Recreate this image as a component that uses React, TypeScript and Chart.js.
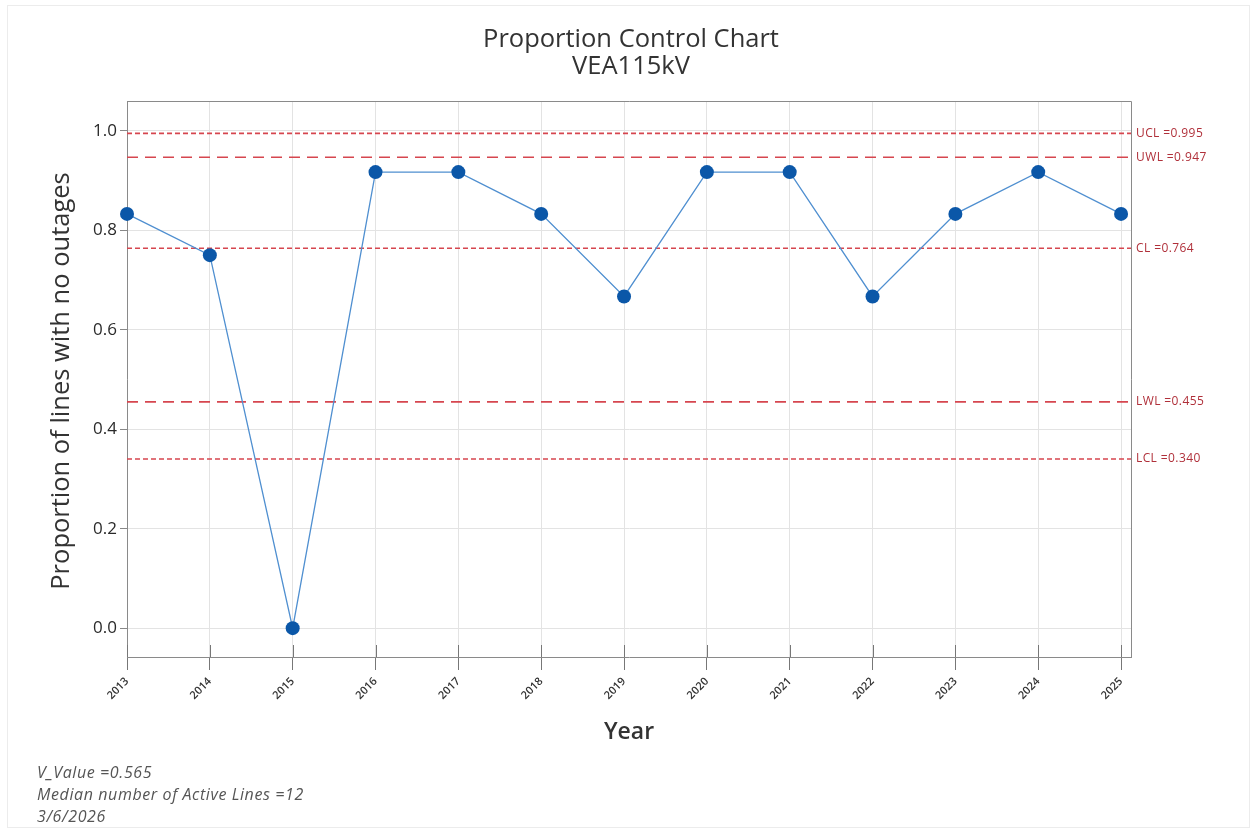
import React, { useEffect, useRef } from "react";
import { Chart, registerables } from "chart.js";

Chart.register(...registerables);

const years = [2013, 2014, 2015, 2016, 2017, 2018, 2019, 2020, 2021, 2022, 2023, 2024, 2025];
const proportions = [0.833, 0.75, 0.0, 0.917, 0.917, 0.833, 0.667, 0.917, 0.917, 0.667, 0.833, 0.917, 0.833];
const yTicks = [0.0, 0.2, 0.4, 0.6, 0.8, 1.0];
const limitNames = ["UCL", "UWL", "CL", "LWL", "LCL"];
const limitValues = [0.995, 0.947, 0.764, 0.455, 0.34];
const limitLabels = ["UCL =0.995", "UWL =0.947", "CL =0.764", "LWL =0.455", "LCL =0.340"];
const limitDashes = [[5, 3], [11, 7], [5, 3], [11, 7], [5, 3]];
const titleLines = ["Proportion Control Chart", "VEA115kV"];
const footnotes = ["V_Value =0.565", "Median number of Active Lines =12", "3/6/2026"];

const X_MIN = 2013;
const X_MAX = 2025.12;
const Y_MIN = -0.058;
const Y_MAX = 1.06;

const FONT = "'Open Sans', 'Noto Sans', sans-serif";

const overlay = {
  id: "overlay",
  afterDraw(chart: any) {
    const { ctx, chartArea } = chart;
    const xs = chart.scales.x;
    const ys = chart.scales.y;
    ctx.save();
    // top and right borders
    ctx.strokeStyle = "#8a8a8a";
    ctx.lineWidth = 1;
    ctx.beginPath();
    ctx.moveTo(chartArea.left, chartArea.top + 0.5);
    ctx.lineTo(chartArea.right + 0.5, chartArea.top + 0.5);
    ctx.lineTo(chartArea.right + 0.5, chartArea.bottom);
    ctx.stroke();
    // inner part of x ticks
    ctx.strokeStyle = "#777";
    years.forEach((y) => {
      const px = Math.round(xs.getPixelForValue(y)) + 0.5;
      ctx.beginPath();
      ctx.moveTo(px, chartArea.bottom - 12);
      ctx.lineTo(px, chartArea.bottom);
      ctx.stroke();
    });
    // limit labels
    ctx.fillStyle = "#b0303a";
    ctx.font = `12px ${FONT}`;
    (ctx as any).letterSpacing = "0.4px";
    ctx.textAlign = "left";
    ctx.textBaseline = "middle";
    limitLabels.forEach((lab, i) => {
      ctx.fillText(lab, chartArea.right + 5, ys.getPixelForValue(limitValues[i]));
    });
    (ctx as any).letterSpacing = "0px";
    // titles
    ctx.fillStyle = "#333";
    ctx.textAlign = "center";
    ctx.textBaseline = "middle";
    ctx.font = `25.5px ${FONT}`;
    ctx.fillText(titleLines[0], 631, 40);
    ctx.fillText(titleLines[1], 631, 67);
    // x title
    ctx.font = `600 23px ${FONT}`;
    ctx.fillText("Year", 629, 732);
    // y title
    ctx.save();
    ctx.translate(62, 381);
    ctx.rotate(-Math.PI / 2);
    ctx.font = `25.5px ${FONT}`;
    ctx.fillText("Proportion of lines with no outages", 0, 0);
    ctx.restore();
    // footnotes
    ctx.fillStyle = "#555";
    ctx.textAlign = "left";
    ctx.font = `italic 16px ${FONT}`;
    (ctx as any).letterSpacing = "0.6px";
    footnotes.forEach((t, i) => ctx.fillText(t, 37, 773 + i * 22));
    (ctx as any).letterSpacing = "0px";
    ctx.restore();
  },
};

export default function App() {
  const ref = useRef<HTMLCanvasElement>(null);
  useEffect(() => {
    const limitSets = limitNames.map((name, i) => ({
      label: name,
      data: [
        { x: X_MIN, y: limitValues[i] },
        { x: X_MAX, y: limitValues[i] },
      ],
      borderColor: "#d6464f",
      borderWidth: 1.6,
      borderDash: limitDashes[i],
      pointRadius: 0,
      fill: false,
      order: 2,
    }));
    const chart = new Chart(ref.current!, {
      type: "line",
      data: {
        datasets: [
          {
            label: "Proportion",
            data: years.map((y, i) => ({ x: y, y: proportions[i] })),
            borderColor: "#4f8fd0",
            borderWidth: 1.3,
            pointRadius: 7,
            pointBackgroundColor: "#0b57a8",
            pointBorderColor: "#0b57a8",
            pointBorderWidth: 0,
            clip: false as any,
            order: 1,
          },
          ...limitSets,
        ],
      },
      options: {
        animation: false,
        responsive: false,
        maintainAspectRatio: false,
        layout: { padding: { top: 101, right: 122, left: 0, bottom: 0 } },
        plugins: {
          legend: { display: false },
          tooltip: { enabled: false },
          title: { display: false },
        },
        scales: {
          x: {
            type: "linear",
            min: X_MIN,
            max: X_MAX,
            afterBuildTicks: (s: any) => {
              s.ticks = years.map((v) => ({ value: v }));
            },
            afterFit: (s: any) => {
              s.height = 176;
            },
            grid: {
              color: "#e3e3e3",
              drawTicks: true,
              tickLength: 13,
              tickColor: "#777",
            },
            border: { color: "#8a8a8a", width: 1 },
            ticks: {
              minRotation: 45,
              maxRotation: 45,
              autoSkip: false,
              padding: 5,
              color: "#333",
              font: { family: FONT, size: 11, weight: "600" as any },
              callback: (v: any) => String(v),
            },
          },
          y: {
            type: "linear",
            min: Y_MIN,
            max: Y_MAX,
            afterBuildTicks: (s: any) => {
              s.ticks = yTicks.map((v) => ({ value: v }));
            },
            afterFit: (s: any) => {
              s.width = 127;
            },
            grid: {
              color: "#e3e3e3",
              drawTicks: true,
              tickLength: 7,
              tickColor: "#888",
            },
            border: { color: "#8a8a8a", width: 1 },
            ticks: {
              padding: 3,
              color: "#2a2a2a",
              font: { family: FONT, size: 17, weight: "500" as any },
              callback: (v: any) => Number(v).toFixed(1),
            },
          },
        },
      },
      plugins: [overlay],
    });
    return () => chart.destroy();
  }, []);
  return (
    <div style={{ position: "fixed", left: 0, top: 0, width: 1253, height: 833, background: "#fff" }}>
      <div
        style={{
          position: "absolute",
          left: 7,
          top: 5,
          width: 1243,
          height: 823,
          border: "1px solid #ececec",
          boxSizing: "border-box",
        }}
      />
      <canvas ref={ref} width={1253} height={833} style={{ position: "absolute", left: 0, top: 0, width: 1253, height: 833 }} />
    </div>
  );
}
